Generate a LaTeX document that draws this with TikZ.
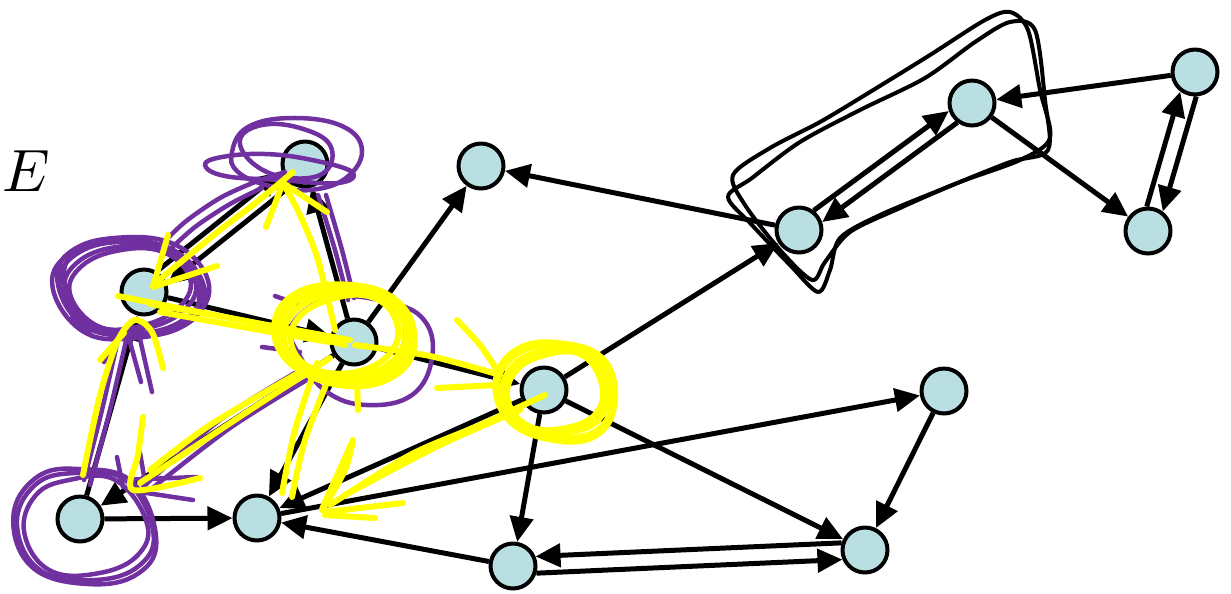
\documentclass[tikz,border=0pt]{standalone}
\usepackage{xcolor}
\usepackage{tikz}
\usetikzlibrary{arrows.meta}
\definecolor{vfill}{HTML}{B9DFE2}
\definecolor{scrpurple}{HTML}{7030A0}
\definecolor{scryellow}{HTML}{FFFF00}
\tikzset{
  vert/.style={circle, draw=black, fill=vfill, line width=0.08cm, minimum size=0.9cm, inner sep=0pt},
  link/.style={draw=black, line width=0.1cm, -{Triangle[length=0.5cm,width=0.46cm]}},
  purp/.style={draw=scrpurple, line width=0.09cm, line cap=round, line join=round},
  yel/.style={draw=scryellow, line width=0.12cm, line cap=round, line join=round},
  lasso/.style={draw=black, line width=0.08cm, line cap=round, line join=round},
  lab/.style={scale=3.4},
}

\begin{document}
\begin{tikzpicture}[x=0.02cm, y=-0.02cm]
  \useasboundingbox (0,0) rectangle (1231,593);

  \node[lab] (title) at (26,171) {$E$};

  % vertices
  \node[vert] (A) at (305,164) {};
  \node[vert] (B) at (481,166) {};
  \node[vert] (C) at (144,292) {};
  \node[vert] (D) at (354,342) {};
  \node[vert] (F) at (544,390) {};
  \node[vert] (G) at (80,519) {};
  \node[vert] (H) at (257,518) {};
  \node[vert] (I) at (513,566) {};
  \node[vert] (J) at (865,550) {};
  \node[vert] (K) at (944,391) {};
  \node[vert] (L) at (799,230) {};
  \node[vert] (M) at (972,103) {};
  \node[vert] (N) at (1195,72) {};
  \node[vert] (P) at (1148,231) {};

  % edges
  \draw[link] (C.58) -- (A.198);
  \draw[link] (A.238) -- (C.18);
  \draw[link] (D) -- (A);
  \draw[link] (C) -- (D);
  \draw[link] (G) -- (C);
  \draw[link] (D) -- (G);
  \draw[link] (D) -- (H);
  \draw[link] (D) -- (B);
  \draw[link] (D) -- (F);
  \draw[link] (F) -- (H);
  \draw[link] (F) -- (I);
  \draw[link] (F) -- (J);
  \draw[link] (F) -- (L);
  \draw[link] (L) -- (B);
  \draw[link] (L.53) -- (M.199);
  \draw[link] (M.233) -- (L.19);
  \draw[link] (N) -- (M);
  \draw[link] (M) -- (P);
  \draw[link] (P.93) -- (N.233);
  \draw[link] (N.273) -- (P.53);
  \draw[link] (G) -- (H);
  \draw[link] (H) -- (K);
  \draw[link] (I) -- (H);
  \draw[link] (J.163) -- (I.23);
  \draw[link] (I.-17) -- (J.203);
  \draw[link] (K) -- (J);

  % hand-drawn lasso round L and M
  \draw[lasso] plot[smooth cycle, tension=0.5] coordinates {(733,175) (770,148) (820,122) (870,92) (930,55) (985,20) (1010,12) (1028,30) (1040,90) (1050,138) (1020,160) (960,182) (900,208) (850,232) (825,262) (812,280) (780,250) (745,205)};
  \draw[lasso] plot[smooth cycle, tension=0.5] coordinates {(728,197) (752,178) (800,142) (860,110) (925,78) (975,42) (1010,22) (1035,30) (1045,100) (1048,150) (1010,162) (945,188) (880,215) (840,238) (830,270) (818,292) (790,265) (752,225)};

  % purple scribbles
  \draw[purp] plot[smooth cycle, tension=0.7] coordinates {(232,152) (248,127) (292,118) (342,126) (362,150) (346,178) (310,190) (270,186) (238,172)};
  \draw[purp] plot[smooth cycle, tension=0.7] coordinates {(205,165) (222,157) (265,154) (312,160) (352,172) (338,183) (280,180) (225,176)};
  \draw[purp] plot[smooth cycle, tension=0.7] coordinates {(240,140) (262,125) (300,128) (330,145) (325,172) (290,178) (255,165)};
  \draw[purp] plot[smooth] coordinates {(158,248) (185,222) (220,198) (255,182) (285,172)};
  \draw[purp] plot[smooth] coordinates {(165,254) (195,227) (230,204) (262,188)};
  \foreach \r/\s in {0/1, 6/0.92, -5/1.05, 10/0.85, -9/0.97, 3/1.1}
    \draw[purp, shift={(130,290)}, rotate=\r, scale=\s] plot[smooth cycle, tension=0.7] coordinates {(-70,-5) (-55,-35) (-10,-48) (45,-38) (72,0) (50,32) (0,44) (-45,35)};
  \draw[purp] (138,330) -- (152,392);
  \draw[purp] (128,335) -- (141,382);
  \draw[purp] (118,338) -- (104,362);
  \draw[purp] (72,318) -- (92,336);
  \draw[purp] plot[smooth] coordinates {(128,332) (110,410) (90,485)};
  \draw[purp] plot[smooth] coordinates {(120,330) (102,410) (84,480)};
  \foreach \r/\s in {0/1, 8/0.9, -6/1.06}
    \draw[purp, shift={(85,525)}, rotate=\r, scale=\s] plot[smooth cycle, tension=0.7] coordinates {(-68,0) (-50,-40) (-10,-52) (40,-45) (68,5) (55,40) (10,55) (-45,45)};
  \draw[purp] (117,457) -- (123,487);
  \draw[purp] (140,453) -- (147,493);
  \draw[purp] (120,480) -- (197,477);
  \draw[purp] (127,490) -- (193,500);
  \draw[purp] plot[smooth] coordinates {(300,370) (220,420) (143,487)};
  \draw[purp] plot[smooth] coordinates {(310,378) (230,428) (150,490)};
  \draw[purp] plot[smooth] coordinates {(318,195) (335,250) (348,300)};
  \draw[purp] plot[smooth] coordinates {(326,195) (342,250) (354,298)};
  \draw[purp, shift={(362,350)}] plot[smooth cycle, tension=0.7] coordinates {(-70,-25) (-30,-52) (25,-48) (62,-30) (70,8) (50,45) (5,55) (-35,42) (-60,10)};
  \draw[purp] (262,347) -- (300,352);
  \draw[purp] (275,296) -- (300,305);

  % yellow scribbles
  \draw[yel] plot[smooth] coordinates {(293,172) (253,205) (220,230) (153,285)};
  \draw[yel] (168,235) -- (153,287) -- (217,266);
  \draw[yel] plot[smooth] coordinates {(335,330) (318,260) (300,215) (283,183)};
  \draw[yel] (266,227) -- (283,183) -- (327,212);
  \draw[yel] plot[smooth] coordinates {(118,296) (230,318) (350,340)};
  \draw[yel] plot[smooth] coordinates {(150,304) (250,322) (345,345)};
  \draw[yel] plot[smooth] coordinates {(160,312) (260,330) (330,342)};
  \draw[yel] plot[smooth] coordinates {(83,475) (100,395) (118,340) (135,320) (152,332) (163,368)};
  \draw[yel] (100,360) -- (124,333);
  \draw[yel] plot[smooth] coordinates {(330,358) (250,410) (140,483)};
  \draw[yel] plot[smooth] coordinates {(300,372) (210,425) (150,470)};
  \draw[yel] plot[smooth] coordinates {(143,417) (138,455) (133,490) (200,478)};
  \foreach \r/\s in {0/1, 7/0.9, -6/1.05, 12/0.8, -3/0.95}
    \draw[yel, shift={(345,335)}, rotate=\r, scale=\s] plot[smooth cycle, tension=0.7] coordinates {(-68,0) (-50,-35) (0,-48) (45,-38) (66,-5) (55,30) (10,48) (-45,35)};
  \draw[yel] (357,383) -- (358,410);
  \draw[yel] plot[smooth] coordinates {(355,345) (430,356) (500,375)};
  \draw[yel] plot[smooth] coordinates {(457,320) (480,345) (497,370)};
  \draw[yel] (437,388) -- (497,385);
  \foreach \r/\s in {0/1, 8/0.9, -7/1.04, 15/0.82}
    \draw[yel, shift={(555,393)}, rotate=\r, scale=\s] plot[smooth cycle, tension=0.7] coordinates {(-58,-5) (-40,-38) (0,-48) (42,-38) (58,0) (45,35) (5,45) (-40,32)};
  \draw[yel] plot[smooth] coordinates {(545,395) (480,425) (410,455) (330,505)};
  \draw[yel] plot[smooth] coordinates {(520,410) (440,445) (345,495)};
  \draw[yel] plot[smooth] coordinates {(353,440) (335,480) (322,510) (345,470) (353,440)};
  \draw[yel] (403,503) -- (325,512);
  \draw[yel] (375,518) -- (325,515);
  \draw[yel] plot[smooth] coordinates {(317,363) (295,430) (282,493)};
  \draw[yel] plot[smooth] coordinates {(330,375) (305,440) (292,497)};
\end{tikzpicture}
\end{document}
